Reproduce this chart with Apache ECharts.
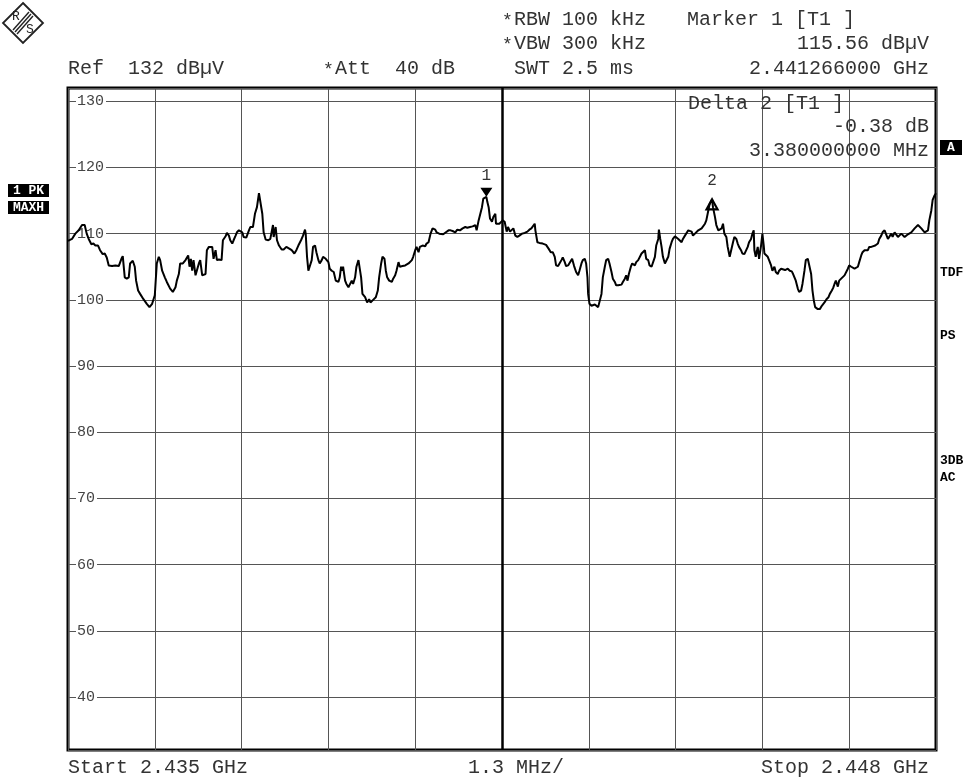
<!DOCTYPE html>
<html>
<head>
<meta charset="utf-8">
<script src="https://cdn.jsdelivr.net/npm/echarts@6/dist/echarts.min.js"></script>
<style>
  html, body { margin: 0; padding: 0; background: #fff; }
  #chart { width: 971px; height: 777px; }
</style>
</head>
<body>
<div id="chart"></div>
<script>
// Sweep settings
const startMHz = 2435;
const stopMHz = 2448;
const spanPerDivMHz = 1.3;
const refLevel = 132;
const bottomLevel = 32;
const levelTicks = [40, 50, 60, 70, 80, 90, 100, 110, 120, 130];

// Max-hold trace: frequency (MHz) and level (dBµV)
const freqMHz = [
  2435.00, 2435.06, 2435.11, 2435.16, 2435.21, 2435.25, 2435.28, 2435.31, 2435.35, 2435.38,
  2435.41, 2435.45, 2435.48, 2435.52, 2435.55, 2435.58, 2435.61, 2435.66, 2435.71, 2435.76,
  2435.80, 2435.82, 2435.85, 2435.88, 2435.91, 2435.93, 2435.97, 2436.00, 2436.02, 2436.05,
  2436.08, 2436.13, 2436.18, 2436.22, 2436.26, 2436.30, 2436.33, 2436.36, 2436.38, 2436.41,
  2436.45, 2436.48, 2436.53, 2436.57, 2436.61, 2436.63, 2436.66, 2436.68, 2436.72, 2436.76,
  2436.80, 2436.82, 2436.84, 2436.86, 2436.88, 2436.91, 2436.93, 2436.96, 2436.98, 2437.01,
  2437.03, 2437.06, 2437.08, 2437.11, 2437.13, 2437.16, 2437.18, 2437.21, 2437.23, 2437.26,
  2437.30, 2437.32, 2437.36, 2437.38, 2437.41, 2437.43, 2437.46, 2437.48, 2437.51, 2437.53,
  2437.56, 2437.61, 2437.63, 2437.67, 2437.71, 2437.73, 2437.77, 2437.80, 2437.83, 2437.86,
  2437.88, 2437.91, 2437.93, 2437.96, 2438.00, 2438.03, 2438.07, 2438.08, 2438.11, 2438.13,
  2438.16, 2438.20, 2438.23, 2438.27, 2438.29, 2438.32, 2438.35, 2438.39, 2438.42, 2438.45,
  2438.49, 2438.52, 2438.55, 2438.56, 2438.58, 2438.60, 2438.62, 2438.65, 2438.67, 2438.70,
  2438.72, 2438.75, 2438.77, 2438.80, 2438.82, 2438.86, 2438.90, 2438.92, 2438.95, 2438.98,
  2439.01, 2439.05, 2439.07, 2439.09, 2439.10, 2439.12, 2439.15, 2439.17, 2439.20, 2439.22,
  2439.25, 2439.27, 2439.30, 2439.32, 2439.35, 2439.37, 2439.39, 2439.41, 2439.45, 2439.48,
  2439.51, 2439.53, 2439.57, 2439.61, 2439.64, 2439.66, 2439.69, 2439.71, 2439.74, 2439.76,
  2439.78, 2439.81, 2439.85, 2439.87, 2439.90, 2439.92, 2439.95, 2439.97, 2440.01, 2440.05,
  2440.10, 2440.15, 2440.17, 2440.20, 2440.22, 2440.25, 2440.27, 2440.31, 2440.35, 2440.37,
  2440.40, 2440.43, 2440.46, 2440.50, 2440.52, 2440.56, 2440.62, 2440.66, 2440.70, 2440.73,
  2440.76, 2440.80, 2440.83, 2440.87, 2440.91, 2440.95, 2440.98, 2441.02, 2441.06, 2441.10,
  2441.12, 2441.15, 2441.17, 2441.20, 2441.22, 2441.266, 2441.28, 2441.30, 2441.32, 2441.35,
  2441.37, 2441.40, 2441.41, 2441.43, 2441.46, 2441.48, 2441.51, 2441.54, 2441.57, 2441.59,
  2441.62, 2441.64, 2441.67, 2441.68, 2441.70, 2441.73, 2441.76, 2441.80, 2441.84, 2441.88,
  2441.91, 2441.94, 2441.96, 2441.99, 2442.00, 2442.03, 2442.06, 2442.11, 2442.16, 2442.20,
  2442.23, 2442.26, 2442.29, 2442.31, 2442.34, 2442.36, 2442.39, 2442.41, 2442.44, 2442.46,
  2442.49, 2442.51, 2442.55, 2442.58, 2442.61, 2442.64, 2442.66, 2442.69, 2442.71, 2442.74,
  2442.76, 2442.78, 2442.79, 2442.81, 2442.84, 2442.86, 2442.89, 2442.91, 2442.94, 2442.96,
  2442.99, 2443.01, 2443.04, 2443.06, 2443.09, 2443.11, 2443.14, 2443.16, 2443.19, 2443.21,
  2443.24, 2443.26, 2443.29, 2443.31, 2443.34, 2443.36, 2443.38, 2443.40, 2443.43, 2443.45,
  2443.49, 2443.51, 2443.54, 2443.56, 2443.59, 2443.61, 2443.64, 2443.66, 2443.69, 2443.71,
  2443.74, 2443.76, 2443.79, 2443.81, 2443.84, 2443.85, 2443.87, 2443.89, 2443.91, 2443.94,
  2443.96, 2443.99, 2444.01, 2444.04, 2444.06, 2444.09, 2444.11, 2444.14, 2444.16, 2444.19,
  2444.21, 2444.24, 2444.26, 2444.29, 2444.31, 2444.34, 2444.36, 2444.39, 2444.41, 2444.44,
  2444.46, 2444.49, 2444.51, 2444.54, 2444.56, 2444.59, 2444.61, 2444.646, 2444.66, 2444.69,
  2444.71, 2444.74, 2444.76, 2444.79, 2444.81, 2444.83, 2444.86, 2444.88, 2444.91, 2444.93,
  2444.96, 2444.98, 2445.01, 2445.03, 2445.05, 2445.08, 2445.10, 2445.13, 2445.15, 2445.18,
  2445.20, 2445.23, 2445.25, 2445.27, 2445.28, 2445.30, 2445.33, 2445.35, 2445.38, 2445.40,
  2445.42, 2445.43, 2445.45, 2445.48, 2445.50, 2445.53, 2445.55, 2445.58, 2445.60, 2445.63,
  2445.65, 2445.68, 2445.70, 2445.74, 2445.78, 2445.81, 2445.84, 2445.86, 2445.88, 2445.90,
  2445.93, 2445.95, 2445.98, 2446.00, 2446.03, 2446.05, 2446.08, 2446.10, 2446.13, 2446.15,
  2446.17, 2446.19, 2446.23, 2446.26, 2446.29, 2446.33, 2446.36, 2446.39, 2446.41, 2446.44,
  2446.46, 2446.48, 2446.50, 2446.53, 2446.55, 2446.58, 2446.60, 2446.63, 2446.65, 2446.68,
  2446.70, 2446.73, 2446.75, 2446.78, 2446.80, 2446.83, 2446.85, 2446.88, 2446.90, 2446.93,
  2446.95, 2446.98, 2447.00, 2447.03, 2447.05, 2447.09, 2447.13, 2447.15, 2447.18, 2447.20,
  2447.23, 2447.25, 2447.28, 2447.30, 2447.33, 2447.35, 2447.38, 2447.40, 2447.43, 2447.45,
  2447.48, 2447.50, 2447.53, 2447.55, 2447.58, 2447.60, 2447.63, 2447.65, 2447.68, 2447.70,
  2447.73, 2447.75, 2447.78, 2447.80, 2447.83, 2447.85, 2447.88, 2447.90, 2447.93, 2447.95,
  2447.98, 2448.00
];
const levelDbuv = [
  108.9, 109.2, 110.0, 110.5, 111.3, 111.3, 110.0, 109.2, 108.4, 108.5,
  108.2, 108.2, 107.5, 106.9, 107.0, 106.4, 105.2, 105.1, 105.2, 105.1,
  106.2, 106.6, 103.4, 103.2, 103.4, 105.5, 105.9, 105.0, 102.9, 101.4,
  100.9, 100.1, 99.4, 98.9, 99.4, 100.7, 105.5, 106.5, 106.0, 104.4,
  103.4, 102.7, 101.7, 101.2, 101.9, 102.9, 103.9, 105.5, 105.5, 106.0,
  106.7, 105.0, 106.2, 104.4, 106.0, 103.7, 103.7, 105.5, 106.0, 103.7,
  103.9, 103.9, 107.5, 108.0, 108.2, 108.0, 106.2, 107.5, 106.0, 106.1,
  106.0, 109.0, 109.6, 110.1, 109.7, 109.0, 108.5, 109.0, 109.7, 110.2,
  110.5, 110.2, 109.5, 109.4, 110.5, 111.0, 111.0, 113.0, 114.0, 116.1,
  115.8, 113.0, 110.2, 109.1, 109.0, 109.2, 111.3, 109.5, 111.0, 109.0,
  108.2, 107.6, 107.6, 108.0, 108.0, 107.7, 107.5, 107.0, 107.5, 108.2,
  109.0, 109.7, 110.6, 110.0, 106.5, 104.4, 104.3, 106.0, 108.0, 108.2,
  107.2, 106.0, 105.5, 106.0, 106.5, 106.2, 105.7, 104.7, 104.4, 104.2,
  102.9, 102.7, 103.4, 105.0, 104.4, 105.0, 102.9, 102.4, 101.9, 102.2,
  102.9, 102.4, 103.4, 105.0, 106.0, 106.2, 103.4, 100.9, 100.4, 99.6,
  100.1, 99.6, 100.0, 100.4, 101.4, 103.4, 105.5, 106.5, 106.2, 104.4,
  103.4, 102.9, 102.7, 103.2, 103.7, 104.4, 105.7, 105.0, 105.1, 105.2,
  105.5, 106.0, 106.5, 107.5, 108.0, 107.2, 108.0, 108.2, 108.1, 108.5,
  108.7, 110.0, 110.8, 110.6, 110.2, 110.0, 109.9, 110.2, 110.5, 110.5,
  110.4, 110.2, 110.6, 110.5, 110.8, 111.0, 110.9, 111.0, 111.1, 111.3,
  110.5, 112.0, 112.3, 114.0, 115.3, 115.56, 114.8, 114.0, 112.3, 111.8,
  112.5, 113.0, 111.5, 111.3, 111.5, 111.8, 112.0, 111.8, 110.3, 111.0,
  110.3, 110.0, 110.8, 110.5, 109.7, 109.5, 109.7, 110.0, 110.1, 110.3,
  110.6, 110.8, 111.0, 111.5, 110.5, 108.7, 108.6, 108.5, 108.3, 107.7,
  107.2, 107.2, 106.5, 105.2, 105.1, 105.2, 106.0, 106.4, 105.7, 105.1,
  105.2, 105.5, 106.2, 105.1, 104.2, 103.7, 104.4, 105.5, 106.0, 106.2,
  105.5, 103.4, 100.9, 99.4, 99.1, 98.9, 99.3, 99.6, 98.9, 99.1,
  100.9, 103.4, 105.0, 106.0, 106.2, 105.5, 104.2, 103.2, 102.7, 102.2,
  102.2, 102.0, 102.3, 102.7, 103.2, 103.7, 102.9, 103.9, 105.0, 105.5,
  105.2, 105.7, 106.0, 106.2, 107.0, 107.2, 107.5, 106.2, 106.0, 105.2,
  105.0, 105.2, 106.5, 108.2, 109.2, 110.6, 109.2, 108.0, 106.5, 105.5,
  105.7, 106.5, 107.7, 108.7, 109.2, 109.6, 109.7, 109.2, 109.0, 108.7,
  109.2, 109.7, 110.0, 110.5, 110.6, 110.3, 109.7, 110.0, 110.1, 110.5,
  110.6, 110.8, 111.0, 111.5, 112.0, 113.5, 114.5, 115.18, 114.0, 112.5,
  111.3, 110.5, 110.3, 110.8, 111.5, 110.0, 109.5, 108.0, 106.5, 106.7,
  108.7, 109.5, 109.2, 108.5, 108.0, 107.5, 107.0, 106.9, 107.2, 108.0,
  108.7, 109.2, 110.0, 110.5, 107.5, 106.5, 108.0, 106.2, 108.2, 110.0,
  108.2, 107.0, 106.7, 106.5, 106.0, 105.2, 104.4, 105.0, 104.2, 103.9,
  104.4, 104.7, 104.7, 104.5, 104.7, 104.4, 104.3, 103.9, 103.4, 102.9,
  101.7, 101.2, 101.4, 102.4, 104.4, 106.0, 106.2, 106.0, 103.9, 101.4,
  99.9, 98.9, 98.6, 98.6, 99.1, 99.6, 100.1, 100.4, 100.9, 101.4,
  101.8, 102.4, 102.9, 102.0, 102.9, 103.2, 103.4, 103.7, 103.9, 104.7,
  105.2, 105.0, 105.2, 104.7, 104.4, 105.0, 105.7, 106.7, 107.2, 107.5,
  107.7, 107.5, 108.0, 108.0, 108.2, 108.2, 108.5, 109.2, 109.7, 110.2,
  110.5, 110.2, 109.2, 109.0, 110.0, 109.5, 110.2, 110.0, 109.5, 109.7,
  110.0, 109.7, 109.5, 109.7, 109.9, 110.0, 110.2, 110.5, 110.8, 111.0,
  111.3, 111.0, 110.8, 110.5, 110.2, 110.1, 110.5, 112.0, 113.5, 115.1,
  115.8, 116.1
];

// Markers: normal marker 1 and delta marker 2
const markerNames = ['1', '2'];
const markerFreqMHz = [2441.266, 2444.646];
const markerLevel = [115.56, 115.18];

const mono = '"Liberation Mono", "DejaVu Sans Mono", monospace';
const ink = '#333';

function text(x, y, s, align, size, color, weight) {
  return {
    type: 'text', x: x, y: y, silent: true, z: 100,
    style: {
      text: s, fill: color || ink, font: (weight ? weight + ' ' : '') + (size || 20) + 'px ' + mono,
      textAlign: align || 'left', textVerticalAlign: 'middle'
    }
  };
}
function badge(x, y, w, h, s, size) {
  return [
    { type: 'rect', z: 100, silent: true, shape: { x: x, y: y, width: w, height: h }, style: { fill: '#000' } },
    { type: 'text', z: 101, silent: true, x: x + w / 2, y: y + h / 2 + 0.5,
      style: { text: s, fill: '#fff', font: 'bold ' + (size || 12) + 'px ' + mono, textAlign: 'center', textVerticalAlign: 'middle' } }
  ];
}

const chart = echarts.init(document.getElementById('chart'), null, { renderer: 'canvas' });

const centerMHz = startMHz + 5 * spanPerDivMHz;

// Rohde & Schwarz style diamond logo
const logo = [
  { type: 'polygon', z: 100, silent: true, shape: { points: [[23, 3], [43, 23], [23, 43], [3, 23]] },
    style: { fill: '#fff', stroke: '#222', lineWidth: 1.8 } },
  { type: 'text', z: 101, silent: true, x: 16, y: 17, style: { text: 'R', fill: '#222', font: '13px ' + mono, textAlign: 'center', textVerticalAlign: 'middle' } },
  { type: 'text', z: 101, silent: true, x: 30, y: 30, style: { text: 'S', fill: '#222', font: '13px ' + mono, textAlign: 'center', textVerticalAlign: 'middle' } },
  { type: 'line', z: 101, silent: true, shape: { x1: 13, y1: 30, x2: 29, y2: 12 }, style: { stroke: '#222', lineWidth: 1.4 } },
  { type: 'line', z: 101, silent: true, shape: { x1: 15, y1: 32, x2: 31, y2: 14 }, style: { stroke: '#222', lineWidth: 1.4 } },
  { type: 'line', z: 101, silent: true, shape: { x1: 17, y1: 34, x2: 33, y2: 16 }, style: { stroke: '#222', lineWidth: 1.4 } }
];

const graphics = [].concat(
  logo,
  [
    text(502, 21, '*', 'left', 18),
    text(514, 20, 'RBW 100 kHz'),
    text(687, 20, 'Marker 1 [T1 ]'),
    text(502, 45, '*', 'left', 18),
    text(514, 44, 'VBW 300 kHz'),
    text(929, 44, '115.56 dBµV', 'right'),
    text(68, 69, 'Ref  132 dBµV'),
    text(323, 70, '*', 'left', 18),
    text(335, 69, 'Att  40 dB'),
    text(514, 69, 'SWT 2.5 ms'),
    text(929, 69, '2.441266000 GHz', 'right'),
    text(688, 104, 'Delta 2 [T1 ]'),
    text(929, 127, '-0.38 dB', 'right'),
    text(929, 151, '3.380000000 MHz', 'right'),
    text(68, 768, 'Start 2.435 GHz'),
    text(468, 768, '1.3 MHz/'),
    text(929, 768, 'Stop 2.448 GHz', 'right'),
    text(940, 273, 'TDF', 'left', 13, '#000', 'bold'),
    text(940, 336, 'PS', 'left', 13, '#000', 'bold'),
    text(940, 461, '3DB', 'left', 13, '#000', 'bold'),
    text(940, 478, 'AC', 'left', 13, '#000', 'bold')
  ],
  badge(940, 140, 22, 15, 'A', 13),
  badge(8, 184, 41, 13, '1 PK', 13),
  badge(8, 201, 41, 13, 'MAXH', 13)
);

chart.setOption({
  animation: false,
  backgroundColor: '#fff',
  grid: {
    left: 68, right: 35, top: 88, bottom: 27,
    show: true, borderColor: '#000', borderWidth: 3, backgroundColor: 'transparent'
  },
  xAxis: {
    type: 'value', min: startMHz, max: stopMHz, interval: spanPerDivMHz,
    axisLine: { show: false }, axisTick: { show: false }, axisLabel: { show: false },
    splitLine: { show: true, lineStyle: { color: '#555', width: 1 } }
  },
  yAxis: {
    type: 'value', min: bottomLevel, max: refLevel, splitNumber: 10, minInterval: 10, maxInterval: 10,
    axisLine: { show: false }, axisTick: { show: false },
    splitLine: { show: true, lineStyle: { color: '#555', width: 1 } },
    axisLabel: {
      inside: true, margin: 8, showMinLabel: false, showMaxLabel: false,
      color: '#444', fontFamily: mono, fontSize: 15,
      backgroundColor: '#fff', padding: [0, 2, 0, 1],
      formatter: function (v) { return levelTicks.indexOf(v) >= 0 ? String(v) : ''; }
    },
    z: 5
  },
  series: [{
    type: 'line',
    data: freqMHz.map(function (f, i) { return [f, levelDbuv[i]]; }),
    showSymbol: false, symbol: 'none',
    lineStyle: { color: '#000', width: 2 },
    z: 10,
    markLine: {
      silent: true, symbol: 'none', animation: false,
      label: { show: false },
      lineStyle: { color: '#000', width: 2.5, type: 'solid' },
      data: [{ xAxis: centerMHz }]
    },
    markPoint: {
      silent: true, animation: false,
      data: [
        {
          coord: [markerFreqMHz[0], markerLevel[0]], symbol: 'triangle', symbolRotate: 180,
          symbolSize: [12, 9], symbolOffset: [0, '-50%'],
          itemStyle: { color: '#000' },
          label: { show: true, position: 'top', distance: 4, formatter: markerNames[0], color: '#333', fontFamily: mono, fontSize: 16 }
        },
        {
          coord: [markerFreqMHz[1], markerLevel[1]], symbol: 'triangle',
          symbolSize: [11, 10], symbolOffset: [0, '50%'],
          itemStyle: { color: '#fff', borderColor: '#000', borderWidth: 2.2 },
          label: { show: true, position: 'top', distance: 4, offset: [0, -6], formatter: markerNames[1], color: '#333', fontFamily: mono, fontSize: 16 }
        }
      ]
    }
  }],
  graphic: graphics
});
</script>
</body>
</html>
